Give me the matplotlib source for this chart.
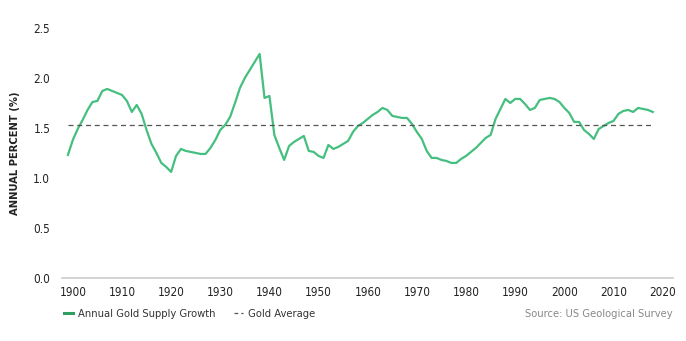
import matplotlib.pyplot as plt
import numpy as np

plt.rcParams['font.family'] = ['Liberation Sans Narrow', 'DejaVu Sans']
plt.rcParams['font.stretch'] = 'condensed'

years = list(range(1899, 2019))
supply_growth = [
    1.23, 1.38, 1.49, 1.58, 1.68, 1.76, 1.77, 1.87, 1.89, 1.87,  # 1899-1908
    1.85, 1.83, 1.77, 1.66, 1.73, 1.64, 1.48, 1.34, 1.25, 1.15,  # 1909-1918
    1.11, 1.06, 1.22, 1.29, 1.27, 1.26, 1.25, 1.24, 1.24, 1.30,  # 1919-1928
    1.38, 1.48, 1.53, 1.61, 1.75, 1.90, 2.00, 2.08, 2.16, 2.24,  # 1929-1938
    1.80, 1.82, 1.43, 1.30, 1.18, 1.32, 1.36, 1.39, 1.42, 1.27,  # 1939-1948
    1.26, 1.22, 1.20, 1.33, 1.29, 1.31, 1.34, 1.37, 1.46, 1.52,  # 1949-1958
    1.55, 1.59, 1.63, 1.66, 1.70, 1.68, 1.62, 1.61, 1.60, 1.60,  # 1959-1968
    1.54, 1.46, 1.39, 1.27, 1.20, 1.20, 1.18, 1.17, 1.15, 1.15,  # 1969-1978
    1.19, 1.22, 1.26, 1.30, 1.35, 1.40, 1.43, 1.59, 1.69, 1.79,  # 1979-1988
    1.75, 1.79, 1.79, 1.74, 1.68, 1.70, 1.78, 1.79, 1.80, 1.79,  # 1989-1998
    1.76, 1.70, 1.65, 1.56, 1.56, 1.48, 1.44, 1.39, 1.49, 1.52,  # 1999-2008
    1.55, 1.57, 1.64, 1.67, 1.68, 1.66, 1.70, 1.69, 1.68, 1.66,  # 2009-2018
]
gold_average = 1.53

x_ticks = list(range(1900, 2021, 10))
y_ticks = [0.0, 0.5, 1.0, 1.5, 2.0, 2.5]

fig = plt.figure(figsize=(6.86, 3.41), dpi=100)
ax = fig.add_axes([0.0904, 0.185, 0.8906, 0.733])

ax.plot(years, supply_growth, color='#45bf7f', lw=1.6, label='Annual Gold Supply Growth')
ax.plot([years[0], years[-1]], [gold_average, gold_average], color='#555555',
        lw=0.9, ls=(0, (4, 3)), label='Gold Average')

ax.set_xlim(1897.8, 2022.1)
ax.set_ylim(0, 2.5)
ax.set_xticks(x_ticks)
ax.set_yticks(y_ticks)
ax.set_yticklabels([f'{v:.1f}' for v in y_ticks])

for side in ['top', 'right', 'left']:
    ax.spines[side].set_visible(False)
ax.spines['bottom'].set_color('#cccccc')
ax.spines['bottom'].set_linewidth(1.2)
ax.tick_params(axis='both', length=0, labelsize=8.5, colors='#222222')
ax.tick_params(axis='y', pad=8.5)
ax.tick_params(axis='x', pad=6)

ax.set_ylabel('ANNUAL PERCENT (%)', fontsize=8, fontweight='bold', color='#222222')
ax.yaxis.set_label_coords(-0.069, 0.5)

leg = ax.legend(loc='upper left', bbox_to_anchor=(-0.004, -0.105), ncol=2, frameon=False,
                fontsize=8, handlelength=0.8, handletextpad=0.5, columnspacing=1.6,
                borderaxespad=0, labelcolor='#333333')
leg.get_lines()[0].set_color('#2e9e63')
leg.get_lines()[0].set_linewidth(2.2)
leg.get_lines()[1].set_linestyle((0, (3, 2.5)))

ax.text(1.0, -0.125, 'Source: US Geological Survey', transform=ax.transAxes,
        ha='right', va='top', fontsize=8, color='#888888')

fig.savefig('out.png', dpi=100)
